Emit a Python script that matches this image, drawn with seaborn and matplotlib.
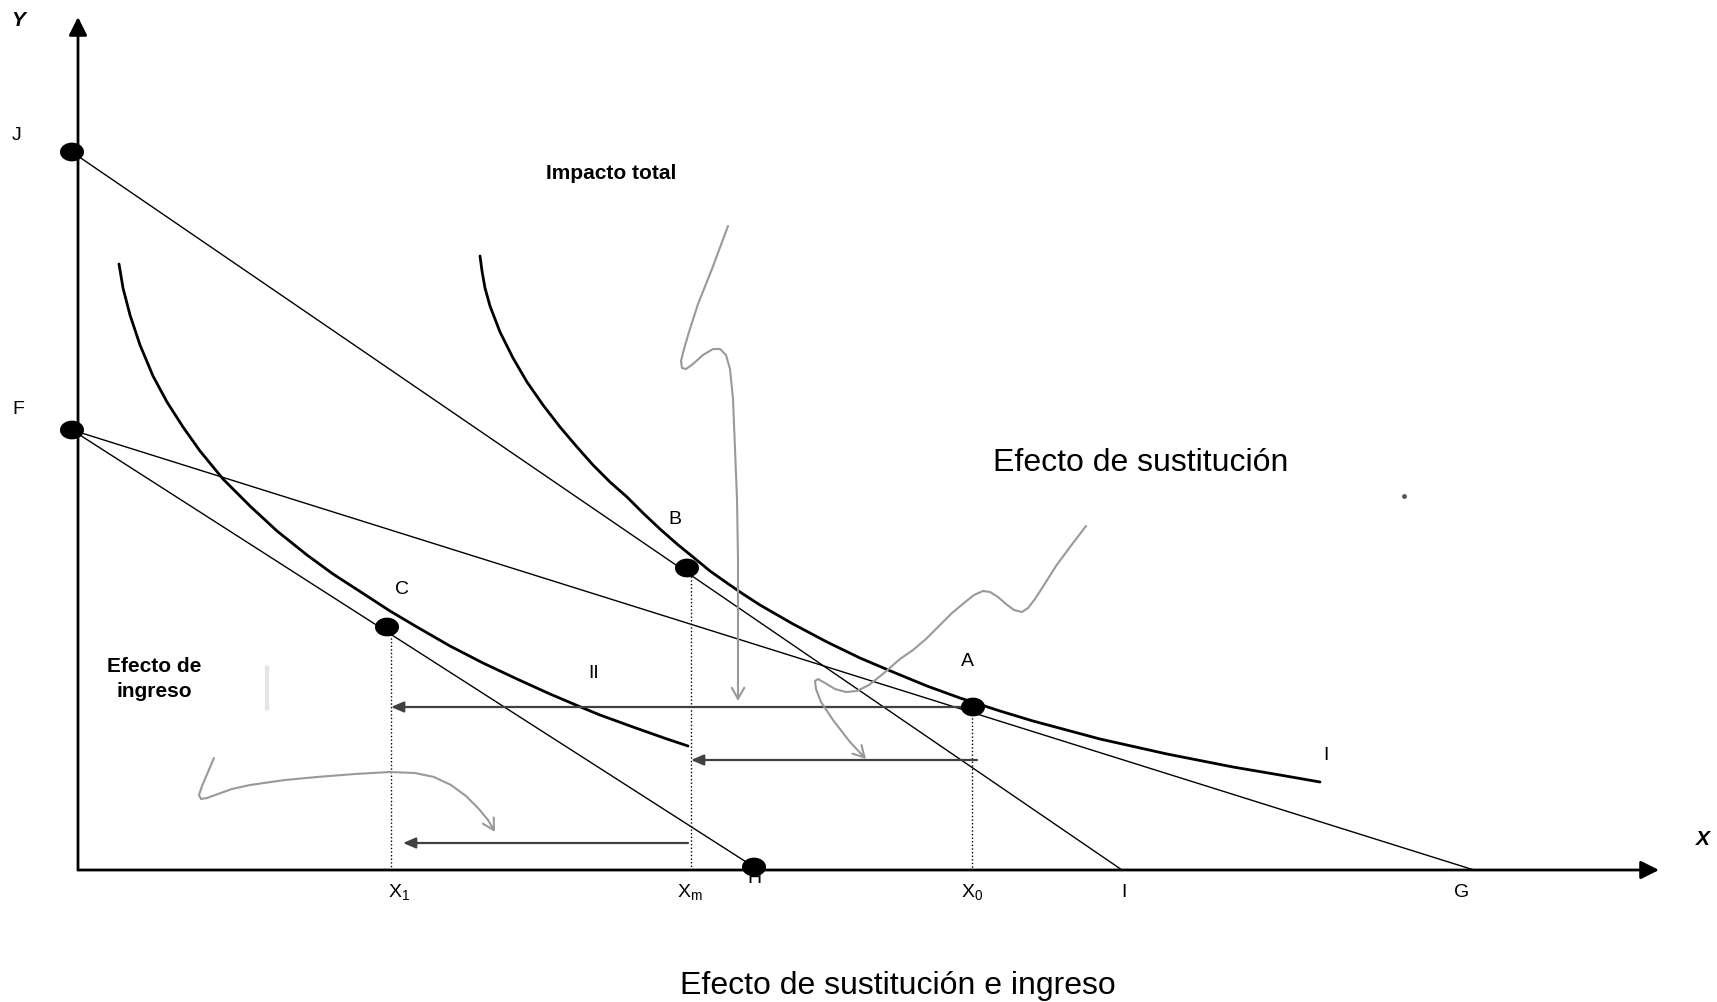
import numpy as np
import matplotlib
matplotlib.use("Agg")
import matplotlib.pyplot as plt
import seaborn as sns
from matplotlib.path import Path
from matplotlib.patches import Rectangle

# all coordinates (y grows downward)
axis_x0, axis_y0 = 78, 871
y_axis_top = 18
x_axis_end = 1659

# indifference curve I (upper, through B and A)
curve_I_x = [480, 482, 485, 490, 500, 513, 527, 543, 560, 577, 593, 610, 627, 643, 660, 677, 693,
             710, 727, 743, 760, 793, 827, 860, 893, 927, 960, 1000, 1033, 1100, 1167, 1233, 1280, 1320]
curve_I_y = [257, 272, 289, 307, 333, 359, 383, 406, 428, 448, 466, 483, 498, 514, 530, 545, 558,
             572, 584, 595, 606, 625, 643, 659, 673, 687, 699, 712, 722, 740, 755, 768, 776, 783]

# indifference curve II (lower, through C)
curve_II_x = [119, 123, 130, 140, 153, 167, 183, 200, 223, 250, 277, 307, 333, 367, 390, 417,
              450, 483, 517, 550, 583, 600, 633, 667, 688]
curve_II_y = [265, 289, 316, 346, 377, 403, 428, 452, 480, 507, 532, 556, 575, 597, 612, 628,
              647, 664, 680, 695, 709, 716, 728, 740, 747]

# budget lines (start point, end point)
line_JI = [(72, 153), (1122, 871)]
line_FG = [(72, 431), (1474, 871)]
line_FH = [(72, 431), (754, 868)]

# marked points
point_names = ["J", "F", "B", "C", "A", "H"]
point_x = [72, 72, 687, 387, 973, 754]
point_y = [153, 431, 569, 628, 708, 868]

# horizontal effect arrows (from, to)
arrows_h = [((973, 708), (391, 708)), ((977, 761), (691, 761)), ((688, 844), (403, 844))]

# dotted guides down to the X axis
guide_x = [391, 691, 972]
guide_top = [628, 570, 708]

# grey hand-drawn pointers
total_x = [728, 712, 698, 689, 684, 681, 682, 686, 693, 703, 713, 720, 726, 730, 733, 735, 737, 738, 738, 738]
total_y = [227, 270, 305, 333, 350, 362, 369, 370, 365, 356, 350, 350, 356, 370, 400, 450, 500, 560, 640, 702]
sust_x = [1086, 1070, 1056, 1044, 1035, 1028, 1022, 1014, 1006, 998, 990, 983, 974, 964, 952, 939,
          926, 913, 900, 884, 869, 857, 846, 835, 825, 818, 815, 816, 821, 833, 850, 866]
sust_y = [527, 548, 567, 586, 600, 609, 613, 611, 605, 598, 593, 592, 596, 604, 614, 627,
          640, 651, 660, 674, 686, 692, 693, 690, 684, 680, 682, 690, 703, 721, 743, 760]
ingr_x = [214, 208, 202, 199, 201, 207, 218, 232, 250, 285, 317, 355, 390, 415, 434, 451, 466, 478, 488, 495]
ingr_y = [759, 773, 787, 796, 800, 799, 795, 790, 786, 781, 778, 775, 773, 774, 778, 786, 797, 809, 821, 833]

# labels
letter_labels = [("J", 17, 135), ("F", 18, 409), ("A", 967, 662), ("B", 675, 520), ("C", 402, 589),
                 ("I", 1326, 755), ("II", 594, 673), ("I", 1124, 893), ("G", 1462, 893)]
x_ticks = [(r"X$_\mathregular{1}$", 399, 893), (r"X$_\mathregular{m}$", 690, 893),
           (r"X$_\mathregular{0}$", 972, 893)]

sns.set_style("white")
plt.rcParams["font.family"] = ["Liberation Sans", "DejaVu Sans"]
plt.rcParams["text.color"] = "black"
plt.rcParams["mathtext.fontset"] = "custom"
plt.rcParams["mathtext.rm"] = "Liberation Sans"

fig = plt.figure(figsize=(17.17, 10.03), dpi=100)
ax = fig.add_axes([0, 0, 1, 1])
ax.set_xlim(0, 1717)
ax.set_ylim(1003, 0)
ax.axis("off")

thin = 1.0
thick = 2.0

# axes with arrow heads
for tip in [(axis_x0, y_axis_top), (x_axis_end, axis_y0)]:
    ax.annotate("", xy=tip, xytext=(axis_x0, axis_y0),
                arrowprops=dict(arrowstyle="-|>,head_length=1.1,head_width=0.55", lw=2.0,
                                color="black", shrinkA=0, shrinkB=0, mutation_scale=10), zorder=3)

# budget lines
for (x0, y0), (x1, y1) in [line_JI, line_FG, line_FH]:
    ax.plot([x0, x1], [y0, y1], color="black", lw=thin, zorder=2)

# indifference curves
for cx, cy in [(curve_I_x, curve_I_y), (curve_II_x, curve_II_y)]:
    sns.lineplot(x=cx, y=cy, sort=False, estimator=None, color="black", lw=thick, ax=ax,
                 solid_joinstyle="round")

# dotted guides
for gx, gt in zip(guide_x, guide_top):
    ax.plot([gx, gx], [gt, axis_y0], color="black", lw=1.0, ls=(0, (1, 1.6)), zorder=1)

# effect arrows
for start, end in arrows_h:
    ax.annotate("", xy=end, xytext=start,
                arrowprops=dict(arrowstyle="-|>,head_length=0.75,head_width=0.32", lw=1.6,
                                color="#404040", shrinkA=0, shrinkB=0, mutation_scale=10), zorder=2)

# grey pointers
for px, py in [(total_x, total_y), (sust_x, sust_y), (ingr_x, ingr_y)]:
    sns.lineplot(x=px[:-1], y=py[:-1], sort=False, estimator=None, color="#999999", lw=1.5, ax=ax,
                 solid_joinstyle="round")
    ax.annotate("", xy=(px[-1], py[-1]), xytext=(px[-2], py[-2]),
                arrowprops=dict(arrowstyle="->,head_length=0.8,head_width=0.45", lw=1.5,
                                color="#999999", shrinkA=0, shrinkB=0, mutation_scale=10))

# faint scan specks
ax.plot([267, 267], [668, 710], color="#e6e6e6", lw=3, zorder=0)
ax.scatter([1404], [497], s=6, color="#555555", zorder=1)

# points as small ellipses
t = np.linspace(0, 2 * np.pi, 60)
ellipse = Path(np.column_stack([np.cos(t), 0.78 * np.sin(t)]), closed=True)
sns.scatterplot(x=point_x, y=point_y, marker=ellipse, s=300, color="black",
                edgecolor="none", ax=ax, zorder=5)

# text
for txt, tx, ty in letter_labels:
    ax.text(tx, ty, txt, fontsize=14, ha="center", va="center")
for txt, tx, ty in x_ticks:
    ax.text(tx, ty, txt, fontsize=14, ha="center", va="center")
h = ax.text(754, 879, "H", fontsize=14, ha="center", va="center", zorder=1)
h.set_clip_path(Rectangle((735, 871), 40, 13, transform=ax.transData))

ax.text(18, 20, "Y", fontsize=15, fontweight="bold", fontstyle="italic", ha="center", va="center")
ax.text(1703, 840, "X", fontsize=15, fontweight="bold", fontstyle="italic", ha="center", va="center")

ax.text(611, 173, "Impacto total", fontsize=15, fontweight="bold", ha="center", va="center")
ax.text(154, 679, "Efecto de\ningreso", fontsize=15, fontweight="bold", ha="center", va="center",
        multialignment="center", linespacing=1.45)
ax.text(1141, 463, "Efecto de sustitución", fontsize=23, ha="center", va="center")
ax.text(898, 986, "Efecto de sustitución e ingreso", fontsize=23, ha="center", va="center")

fig.savefig("out.png", dpi=100)
